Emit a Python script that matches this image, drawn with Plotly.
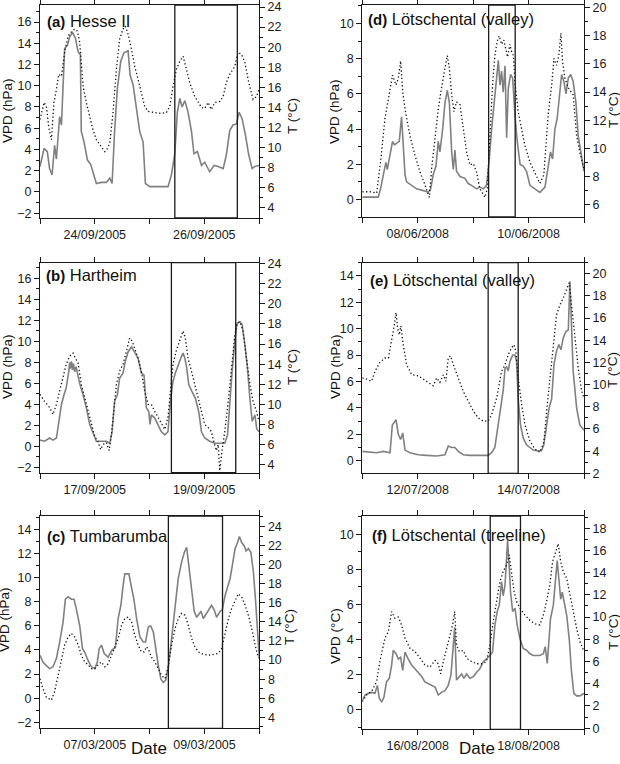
import pandas as pd
import plotly.graph_objects as go

# ---------------- data (hour offset from window start, value) ----------------
A_START = "2005-09-23"
A_VPD = [(0,2.4),(1.8,4.1),(3.2,3.8),(4.2,2.2),(5.3,1.6),(6.4,4.4),(7.2,3.1),(8.6,7.1),(9.4,6.3),(10.8,13.5),
         (12.0,13.8),(13.0,14.6),(14.3,15.0),(15.5,14.5),(16.7,13.2),(17.7,12.9),(18.1,5.7),(19.3,4.7),(20.8,3.0),(22.2,2.6),
         (23.2,1.9),(24.7,0.8),(26.9,0.9),(29.1,0.9),(30.6,1.3),(31.6,0.8),(32.7,5.7),(33.9,9.7),(35.4,12.3),(36.8,13.1),
         (38.6,13.3),(39.5,11.0),(40.8,10.1),(42.3,7.9),(43.7,5.7),(45.2,4.7),(46.2,0.8),(48.1,0.5),(50.3,0.5),(53.2,0.5),
         (56.1,0.5),(57.6,1.6),(59.1,3.6),(60.2,7.5),(61.3,8.8),(62.3,8.0),(63.5,8.6),(64.9,7.5),(66.4,5.7),(67.5,3.6),
         (69.0,3.8),(70.8,2.5),(72.2,2.8),(74.4,1.9),(76.3,2.5),(78.1,2.4),(80.3,2.2),(81.7,3.5),(83.2,5.8),(84.6,6.3),
         (86.1,6.4),(87.3,7.5),(88.6,6.9),(90.1,5.3),(91.5,3.5),(93.0,2.2),(94.2,2.4),(96,2.5)]
A_T = [(0,12.8),(1.8,14.5),(2.8,14.1),(3.8,12.1),(5.0,10.8),(6.1,14.5),(7.2,15.8),(8.2,17.3),(9.4,17.1),(10.8,19.5),
       (12.3,21.1),(13.7,21.5),(15.2,21.8),(16.4,21.6),(17.4,20.5),(18.9,16.1),(20.3,14.5),(21.8,13.1),(23.2,11.8),(24.7,10.8),
       (26.9,10.1),(28.4,9.6),(29.8,10.0),(30.6,10.5),(32.0,13.5),(33.5,17.8),(34.9,20.8),(36.4,21.8),(37.4,22.1),(38.6,21.3),
       (40.1,19.8),(41.5,18.1),(43.0,16.8),(44.4,15.5),(45.9,14.1),(47.4,13.6),(50.3,13.5),(53.2,13.4),(55.4,13.5),(56.9,14.1),
       (58.3,16.1),(59.8,17.8),(61.3,18.6),(62.7,19.1),(64.2,17.8),(65.6,16.5),(67.8,15.1),(69.3,14.5),(70.8,14.0),(72.2,13.9),
       (73.7,14.5),(75.1,13.8),(76.6,14.5),(78.8,14.6),(80.3,15.1),(81.7,16.5),(83.2,17.3),(85.4,18.1),(86.8,19.5),(88.3,19.3),
       (89.8,18.5),(91.5,16.5),(93.4,14.8),(94.9,15.1),(96,15.8)]

B_START = "2005-09-16"
B_VPD = [(0,0.6),(2.0,0.5),(4.2,0.8),(5.7,0.6),(7.2,0.8),(8.2,2.4),(9.4,4.0),(10.5,4.9),(11.5,5.6),(12.6,7.1),
         (13.0,8.0),(13.3,7.4),(13.8,8.1),(14.2,7.3),(14.7,7.9),(15.2,7.1),(15.8,7.6),(16.4,7.0),(17.4,6.0),(18.9,4.9),
         (20.3,3.7),(21.8,2.1),(23.2,1.3),(24.7,0.5),(26.9,0.5),(29.1,0.5),(30.6,0.3),(31.6,1.4),(32.7,4.3),(33.9,4.9),
         (34.9,6.5),(36.4,7.0),(37.4,8.1),(38.6,9.0),(40.1,9.5),(41.5,8.9),(43.0,8.4),(44.4,7.0),(45.6,6.8),(46.6,3.7),
         (47.7,3.3),(48.2,2.1),(48.8,3.0),(50.3,2.7),(51.8,2.1),(53.2,1.4),(54.7,1.1),(56.1,1.4),(57.3,4.6),(58.3,6.2),
         (59.5,7.1),(60.5,7.8),(61.7,8.4),(62.7,8.9),(63.5,8.4),(64.3,7.5),(65.2,5.9),(66.7,5.2),(68.1,4.6),(69.6,3.3),
         (70.8,1.4),(72.2,0.8),(74.4,0.5),(76.6,0.3),(78.8,0.3),(81.0,0.3),(82.2,1.1),(83.2,4.3),(84.2,7.1),(85.4,10.0),
         (86.3,11.7),(87.6,11.9),(88.6,11.6),(89.8,9.7),(90.9,7.5),(92.0,4.6),(93.0,2.4),(94.2,3.0),(95.0,1.7),(96,1.4)]
B_T = [(0,11.0),(2.0,10.3),(4.2,9.7),(5.7,9.0),(7.2,10.0),(8.6,11.3),(10.1,12.6),(11.5,14.0),(13.0,14.8),(14.5,15.1),
       (15.5,14.6),(16.7,14.1),(18.1,12.0),(19.6,10.6),(21.1,9.3),(22.5,8.0),(24.0,6.8),(25.4,6.3),(26.6,5.5),(27.6,6.0),
       (29.1,6.2),(30.3,5.4),(31.3,7.0),(32.5,9.7),(33.5,12.0),(34.9,13.3),(36.4,14.0),(37.9,15.3),(39.3,16.6),(40.4,16.3),
       (41.5,15.6),(43.0,14.6),(44.4,13.3),(45.9,11.3),(47.4,10.0),(48.8,10.0),(50.3,9.3),(51.8,8.7),(53.2,8.0),(54.7,7.5),
       (56.1,8.7),(57.3,11.3),(58.3,14.0),(59.8,15.4),(61.3,16.3),(62.7,17.3),(63.7,16.6),(64.9,14.6),(66.4,13.3),(67.8,12.0),
       (69.3,10.6),(70.8,9.3),(72.2,8.0),(73.7,7.7),(75.1,7.3),(76.3,6.2),(77.3,5.4),(78.1,6.0),(78.8,3.4),(79.8,5.4),
       (81.0,7.3),(82.5,10.3),(83.9,13.6),(85.4,16.9),(86.5,18.1),(87.7,18.2),(89.0,17.3),(90.5,14.6),(92.0,12.0),(93.4,10.3),
       (94.9,9.3),(96,8.3)]

C_START = "2005-03-06"
C_VPD = [(0,3.55),(1.3,3.0),(2.8,2.7),(4.2,2.45),(5.7,2.6),(7.2,3.3),(8.6,4.65),(10.1,6.3),(11.1,8.2),(12.3,8.4),
         (13.7,8.2),(14.9,8.2),(15.9,7.4),(17.4,6.0),(18.6,4.1),(19.6,3.8),(21.1,3.1),(22.5,2.6),(24.0,2.45),(25.1,3.0),
         (25.9,4.1),(26.9,4.4),(28.1,3.7),(29.8,3.4),(31.6,4.0),(33.0,4.2),(34.2,6.6),(35.4,7.7),(36.4,9.35),(37.1,10.3),
         (38.9,10.3),(40.1,9.1),(41.1,8.2),(42.3,6.6),(43.7,5.1),(45.2,4.65),(46.2,4.65),(47.4,5.9),(48.4,6.0),(49.6,5.5),
         (50.6,4.1),(51.8,2.7),(52.9,1.6),(54.0,1.3),(55.0,1.5),(56.1,2.45),(57.3,4.4),(58.3,6.3),(59.4,8.2),(60.5,9.9),
         (62.0,11.3),(63.2,12.1),(64.2,12.5),(65.2,11.0),(66.4,9.1),(67.5,7.2),(68.6,6.7),(69.6,7.0),(70.5,7.2),(71.5,6.6),
         (72.5,6.9),(74.0,7.4),(75.1,7.7),(76.3,7.3),(77.3,6.7),(78.8,7.2),(79.8,7.3),(81.0,8.5),(82.2,9.35),(83.2,9.9),
         (84.2,11.0),(85.4,12.4),(86.5,12.9),(87.3,13.4),(88.3,12.9),(89.5,12.6),(90.2,12.2),(91.2,12.4),(92.3,12.1),(93.4,10.5),
         (94.4,8.0),(95.3,4.9),(96,3.3)]
C_T = [(0,8.05),(1.3,7.0),(2.8,6.1),(5.0,5.8),(6.4,6.7),(7.9,8.4),(9.4,10.2),(10.8,11.6),(12.3,12.4),(13.7,12.8),
       (15.2,12.4),(16.7,11.6),(18.1,10.5),(19.6,9.8),(21.1,9.5),(22.5,9.1),(24.0,9.1),(25.4,9.5),(26.9,9.8),(28.4,9.3),
       (29.8,9.6),(31.3,10.5),(32.7,11.2),(34.2,12.25),(35.7,13.65),(37.1,14.35),(38.6,14.5),(40.1,14.0),(41.5,12.6),(43.0,11.55),
       (44.4,10.85),(45.6,10.85),(46.6,11.4),(47.7,11.0),(48.8,10.3),(50.3,9.8),(51.8,9.1),(53.2,8.4),(54.7,8.05),(56.1,9.3),
       (57.6,11.55),(59.1,13.3),(60.5,14.35),(62.0,14.9),(63.5,14.7),(64.9,13.65),(66.4,12.25),(67.8,11.4),(69.3,10.85),(71.5,10.6),
       (73.7,10.5),(75.9,10.6),(78.1,10.7),(79.5,11.2),(81.0,12.95),(82.5,14.35),(83.9,15.4),(85.4,16.3),(86.8,16.95),(88.3,16.6),
       (89.8,15.75),(91.2,14.7),(92.7,13.3),(94.2,11.55),(95.3,10.5),(96,10.2)]

D_START = "2008-06-07"
D_VPD = [(0,0.13),(3.3,0.13),(6.9,0.13),(7.9,0.6),(9.1,1.4),(10.2,2.1),(10.8,1.7),(12.0,2.5),(13.1,3.3),(13.9,3.1),
         (14.9,3.2),(16.0,3.3),(17.0,4.7),(17.7,3.3),(18.5,1.4),(19.2,1.0),(21.4,0.8),(23.5,0.6),(26.4,0.5),(28.6,0.4),
         (29.6,0.6),(30.7,1.4),(31.9,1.9),(32.9,3.3),(33.6,2.7),(34.8,4.0),(35.8,5.5),(36.8,6.2),(37.7,5.5),(38.7,2.7),
         (39.4,1.7),(40.1,2.8),(40.8,1.6),(42.3,1.3),(44.4,1.2),(45.9,0.9),(47.3,0.8),(49.5,0.6),(50.9,0.7),(52.4,0.6),
         (53.8,0.8),(55.0,2.3),(56.0,4.0),(57.1,5.5),(58.2,6.9),(58.9,7.9),(59.6,6.5),(60.3,7.3),(61.0,6.1),(61.8,7.6),
         (62.5,3.5),(63.2,6.3),(64.2,7.1),(65.1,6.9),(66.1,4.8),(67.1,3.3),(68.3,2.0),(69.7,1.9),(71.1,1.6),(72.6,0.8),
         (74.7,0.6),(76.9,0.4),(79.1,0.7),(80.5,1.9),(81.5,2.7),(82.4,2.3),(83.4,4.0),(84.4,4.6),(85.6,6.1),(86.3,7.1),
         (87.3,6.7),(88.2,6.0),(89.2,6.9),(90.2,7.1),(91.3,6.7),(92.5,5.5),(93.5,3.6),(94.7,2.7),(96,1.6)]
D_T = [(0,6.9),(3.3,6.9),(6.2,6.8),(7.9,9.0),(9.8,12.1),(11.7,14.0),(13.1,15.2),(14.6,14.5),(15.6,15.0),(16.6,16.2),
       (17.5,14.0),(18.5,12.8),(20.6,10.9),(22.8,9.5),(25.0,8.3),(27.1,7.4),(29.0,6.5),(30.0,8.5),(31.5,10.9),(32.9,12.8),
       (34.3,14.3),(35.8,15.7),(36.8,16.6),(37.7,15.7),(38.7,13.8),(39.7,12.6),(40.8,13.3),(42.3,13.1),(43.7,11.4),(45.2,9.7),
       (46.6,8.8),(48.1,8.9),(49.5,8.3),(50.9,7.1),(52.1,6.8),(53.1,6.5),(54.1,7.1),(55.3,10.9),(56.4,14.5),(57.4,16.6),
       (58.4,17.6),(59.3,18.0),(60.3,17.4),(61.3,17.7),(62.2,17.0),(62.9,16.5),(63.9,17.4),(64.6,16.9),(65.4,16.6),(66.1,14.7),
       (67.5,12.6),(69.0,11.4),(70.4,10.2),(72.6,9.0),(74.7,8.3),(76.9,7.5),(78.6,8.1),(80.5,12.4),(82.0,14.5),(83.0,16.4),
       (84.1,15.9),(85.1,16.6),(86.0,18.2),(86.7,16.2),(87.7,15.0),(89.2,14.3),(91.3,13.8),(92.8,10.9),(94.2,9.7),(96,8.5)]

E_START = "2008-07-11"
E_VPD = [(0,0.7),(3.3,0.65),(6.2,0.6),(9.1,0.7),(12.0,0.6),(13.0,2.7),(13.9,2.9),(14.6,3.1),(15.6,2.0),(16.6,1.6),
         (17.5,2.1),(18.5,0.8),(20.6,0.6),(24.2,0.45),(27.8,0.4),(32.2,0.35),(35.8,0.45),(37.2,1.1),(38.7,1.0),(40.1,1.0),
         (41.6,0.7),(43.7,0.45),(46.6,0.4),(50.9,0.4),(54.5,0.4),(56.0,0.6),(57.4,1.0),(58.4,2.2),(59.3,3.2),(60.3,4.2),
         (61.0,5.3),(61.8,7.0),(62.5,7.1),(63.2,6.8),(63.9,7.5),(65.1,8.0),(66.1,8.0),(66.8,7.5),(67.5,4.7),(68.5,2.7),
         (69.7,1.7),(71.1,1.2),(72.6,1.0),(74.0,0.8),(75.5,0.75),(77.6,0.75),(78.6,1.2),(79.8,2.7),(80.9,4.0),(82.0,4.7),
         (83.0,7.3),(84.1,8.3),(85.1,8.8),(86.0,8.4),(87.0,9.3),(88.2,9.8),(89.2,9.9),(89.9,13.6),(90.6,9.5),(91.3,6.8),
         (92.8,4.0),(94.2,2.7),(96,2.3)]
E_T = [(0,10.6),(1.9,10.5),(4.0,10.3),(5.5,11.2),(7.6,12.0),(9.8,12.4),(11.3,12.4),(12.7,13.9),(13.9,15.4),(14.6,16.5),
       (15.3,15.1),(16.0,14.5),(16.7,15.3),(17.7,13.6),(19.2,11.8),(21.4,10.9),(24.2,10.8),(27.8,10.3),(30.7,9.9),(32.2,10.6),
       (33.6,10.2),(35.1,10.9),(36.2,10.3),(37.2,12.4),(38.2,12.6),(39.4,11.8),(41.6,10.6),(43.7,9.4),(45.9,8.5),(48.1,7.6),
       (50.2,7.0),(52.4,6.7),(54.5,6.7),(56.0,7.3),(58.2,8.8),(60.3,11.2),(61.8,11.8),(63.2,12.7),(64.6,13.3),(65.7,13.6),
       (66.5,13.0),(67.5,10.6),(69.0,8.2),(70.4,6.4),(72.6,4.9),(74.7,4.2),(76.9,3.9),(78.6,4.8),(80.1,8.2),(81.2,10.6),
       (82.7,13.9),(84.1,16.3),(85.6,17.2),(87.0,17.8),(88.5,18.6),(89.6,19.2),(90.6,17.2),(92.1,13.9),(93.5,11.5),(95.0,9.4),
       (96,8.8)]

F_START = "2008-08-15"
F_VPD = [(0,0.55),(1.2,0.85),(2.6,0.95),(4.0,1.0),(5.5,0.95),(6.5,1.4),(7.4,0.65),(8.4,0.45),(9.4,0.75),(10.5,1.6),
         (11.7,1.8),(12.7,2.55),(13.4,3.4),(14.6,3.2),(15.6,2.9),(16.6,3.0),(17.5,2.25),(18.5,3.3),(19.9,2.9),(21.4,2.55),
         (22.8,2.35),(24.2,2.15),(25.7,1.9),(27.1,1.6),(28.6,1.5),(30.0,1.4),(31.5,1.3),(32.9,0.85),(34.3,1.0),(35.8,1.1),
         (37.2,1.4),(38.4,2.0),(39.4,3.5),(40.0,4.7),(40.8,1.7),(42.0,1.9),(43.0,2.05),(44.0,1.8),(45.2,2.05),(46.6,1.8),
         (48.1,1.9),(49.5,2.15),(50.9,2.35),(52.4,2.75),(53.8,2.9),(55.3,3.1),(56.4,3.3),(57.4,4.8),(58.4,5.6),(59.3,5.95),
         (60.3,7.3),(61.0,6.5),(61.8,7.1),(62.5,8.4),(62.9,9.65),(63.6,8.2),(64.2,6.7),(65.1,5.6),(66.1,5.8),(67.1,4.8),
         (68.3,4.05),(69.7,3.5),(71.1,3.4),(72.6,3.2),(74.0,3.1),(75.5,3.1),(76.9,3.1),(78.4,3.2),(79.2,3.6),(80.1,2.65),
         (80.7,4.05),(81.5,5.2),(82.7,5.95),(83.7,7.5),(84.4,8.5),(85.1,7.5),(85.9,6.3),(86.6,6.7),(87.3,6.15),(88.5,5.4),
         (89.6,4.05),(90.6,2.15),(91.6,0.95),(92.8,0.8),(94.2,0.8),(96,0.95)]
F_T = [(0,2.4),(1.9,3.0),(4.0,3.3),(6.2,4.2),(7.6,6.0),(9.8,8.1),(11.3,8.7),(12.7,10.5),(14.1,9.9),(15.6,10.0),
       (17.0,9.3),(18.5,8.1),(20.6,7.2),(22.8,6.9),(25.0,6.3),(27.1,5.7),(29.3,5.5),(31.5,6.1),(32.9,5.8),(33.9,4.9),
       (35.1,6.0),(36.5,7.2),(38.0,8.4),(39.1,9.3),(40.0,10.5),(40.8,7.5),(42.0,6.9),(43.7,7.0),(45.2,6.3),(47.3,6.0),
       (49.5,5.8),(51.7,5.8),(53.8,6.0),(55.3,7.5),(56.7,9.6),(58.2,11.7),(59.6,13.2),(61.0,14.1),(62.5,14.7),(63.6,15.6),
       (64.6,13.8),(65.7,12.3),(66.8,11.4),(68.3,10.8),(70.4,10.2),(72.6,9.7),(74.7,9.4),(76.9,9.3),(78.4,10.2),(79.8,11.4),
       (81.2,12.9),(82.4,15.0),(83.8,15.9),(84.8,16.6),(85.9,15.0),(87.0,14.1),(88.5,13.5),(89.9,12.0),(91.3,10.5),(92.8,9.0),
       (94.2,7.8),(96,6.9)]

# highlighted periods (hours from window start)
RECTS = {"a": (59.1, 86.5), "b": (57.6, 85.8), "c": (56.2, 79.9),
         "d": (54.7, 66.2), "e": (54.5, 67.5), "f": (55.4, 68.5)}
SITES = {"a": "Hesse II", "b": "Hartheim", "c": "Tumbarumba",
         "d": "Lötschental (valley)", "e": "Lötschental (valley)", "f": "Lötschental (treeline)"}
VPD_TITLES = {"a": "VPD (hPa)", "b": "VPD (hPa)", "c": "VPD (hPa)",
              "d": "VPD (hPa)", "e": "VPD (hPa)", "f": "VPD (°C)"}

# ---------------- layout geometry ----------------
W, H = 620, 764
FONT = "Liberation Sans, Arial, sans-serif"
px_x = lambda v: v / W
px_y = lambda v: 1 - v / H

panels = [
    # key, start, vpd, t, xpx, ypx, vpd range, t range
    ("a", A_START, A_VPD, A_T, (40, 259), (5, 218), (-2.45, 17.6), (3.0, 24.2)),
    ("b", B_START, B_VPD, B_T, (40, 259), (262.7, 472.7), (-2.5, 17.5), (3.2, 24.1)),
    ("c", C_START, C_VPD, C_T, (40, 259.3), (516, 728.3), (-2.5, 15.1), (2.85, 25.1)),
    ("d", D_START, D_VPD, D_T, (362.3, 584), (5, 217), (-1.0, 11.05), (5.1, 20.2)),
    ("e", E_START, E_VPD, E_T, (362.3, 584), (262.7, 473.3), (-0.96, 15.0), (2.0, 21.0)),
    ("f", F_START, F_VPD, F_T, (362.3, 584), (516, 729.3), (-1.1, 11.04), (-0.1, 19.1)),
]

label_pos = {"a": (45, 21), "b": (44, 275), "c": (45, 536),
             "d": (366, 18.5), "e": (368, 280), "f": (370, 535)}
vpd_title_pos = {"a": (7, 111), "b": (7, 367), "c": (4, 620),
                 "d": (335, 112), "e": (335, 367), "f": (335, 636)}
t_title_pos = {"a": (292, 116), "b": (292, 367), "c": (289, 627),
               "d": (613, 110), "e": (613, 370), "f": (613, 632)}
date_pos = [(149, 748), (477, 748)]

fig = go.Figure()
layout = {}
shapes = []
annotations = []

axis_common = dict(showline=True, linecolor="#1a1a1a", linewidth=1.1, showgrid=False,
                   zeroline=False, ticks="outside", ticklen=5, tickwidth=1, tickcolor="#1a1a1a",
                   automargin=False,
                   tickfont=dict(family=FONT, size=12.5, color="#1a1a1a"))

def to_x(start, hours):
    s = pd.Timestamp(start)
    return [s + pd.Timedelta(hours=h) for h in hours]

def ref(letter, n):
    return letter if n == 1 else f"{letter}{n}"

for i, (key, start, vpd, temp, xpx, ypx, vr, tr) in enumerate(panels, 1):
    yl, yr = 2 * i - 1, 2 * i
    xname = "xaxis" if i == 1 else f"xaxis{i}"
    ylname = "yaxis" if yl == 1 else f"yaxis{yl}"
    yrname = f"yaxis{yr}"
    xr, ylr, yrr = ref("x", i), ref("y", yl), ref("y", yr)
    s = pd.Timestamp(start)
    days = [s + pd.Timedelta(days=d) for d in range(5)]
    ticktext = ["", days[1].strftime("%d/%m/%Y"), "", days[3].strftime("%d/%m/%Y"), ""]
    layout[xname] = dict(axis_common, domain=[px_x(xpx[0]), px_x(xpx[1])], anchor=ylr,
                         range=[days[0], days[4]], tickvals=days, ticktext=ticktext, mirror="ticks")
    layout[ylname] = dict(axis_common, domain=[px_y(ypx[1]), px_y(ypx[0])], anchor=xr,
                          range=list(vr), tick0=0, dtick=2,
                          minor=dict(dtick=1, ticks="outside", ticklen=3, tickcolor="#1a1a1a"))
    layout[yrname] = dict(axis_common, overlaying=ylr, side="right", anchor=xr,
                          range=list(tr), tick0=0, dtick=2,
                          minor=dict(dtick=1, ticks="outside", ticklen=3, tickcolor="#1a1a1a"))

    vh, vv = zip(*vpd)
    th, tv = zip(*temp)
    fig.add_trace(go.Scatter(x=to_x(start, vh), y=list(vv), xaxis=xr, yaxis=ylr,
                             mode="lines", line=dict(color="#808080", width=1.6), hoverinfo="skip"))
    fig.add_trace(go.Scatter(x=to_x(start, th), y=list(tv), xaxis=xr, yaxis=yrr,
                             mode="lines", line=dict(color="#111111", width=1.3, dash="1.3px,2.4px"),
                             hoverinfo="skip"))

    r0, r1 = RECTS[key]
    shapes.append(dict(type="rect", xref=xr, yref=f"{ylr} domain",
                       x0=s + pd.Timedelta(hours=r0), x1=s + pd.Timedelta(hours=r1), y0=0, y1=1,
                       line=dict(color="#1a1a1a", width=1.3), fillcolor="rgba(0,0,0,0)"))

    lx, ly = label_pos[key]
    annotations.append(dict(xref="paper", yref="paper", x=px_x(lx), y=px_y(ly), xanchor="left",
                            yanchor="middle", showarrow=False,
                            text=f"<b><span style='font-size:15px'>({key})</span></b> {SITES[key]}",
                            font=dict(family=FONT, size=16.5, color="#111")))
    vx, vy = vpd_title_pos[key]
    annotations.append(dict(xref="paper", yref="paper", x=px_x(vx), y=px_y(vy), xanchor="center",
                            yanchor="middle", showarrow=False, textangle=-90, text=VPD_TITLES[key],
                            font=dict(family=FONT, size=13.5, color="#111")))
    tx, ty = t_title_pos[key]
    annotations.append(dict(xref="paper", yref="paper", x=px_x(tx), y=px_y(ty), xanchor="center",
                            yanchor="middle", showarrow=False, textangle=-90, text="T (°C)",
                            font=dict(family=FONT, size=13.5, color="#111")))

for dx, dy in date_pos:
    annotations.append(dict(xref="paper", yref="paper", x=px_x(dx), y=px_y(dy), xanchor="center",
                            yanchor="middle", showarrow=False, text="Date",
                            font=dict(family=FONT, size=17, color="#111")))

fig.update_layout(template="none", width=W, height=H, margin=dict(l=0, r=0, t=0, b=0, autoexpand=False),
                  paper_bgcolor="white", plot_bgcolor="white", showlegend=False,
                  shapes=shapes, annotations=annotations, **layout)

fig.write_html("out.html", config={"displayModeBar": False, "staticPlot": True},
               post_script="document.body.style.margin='0';document.body.style.overflow='hidden';")
